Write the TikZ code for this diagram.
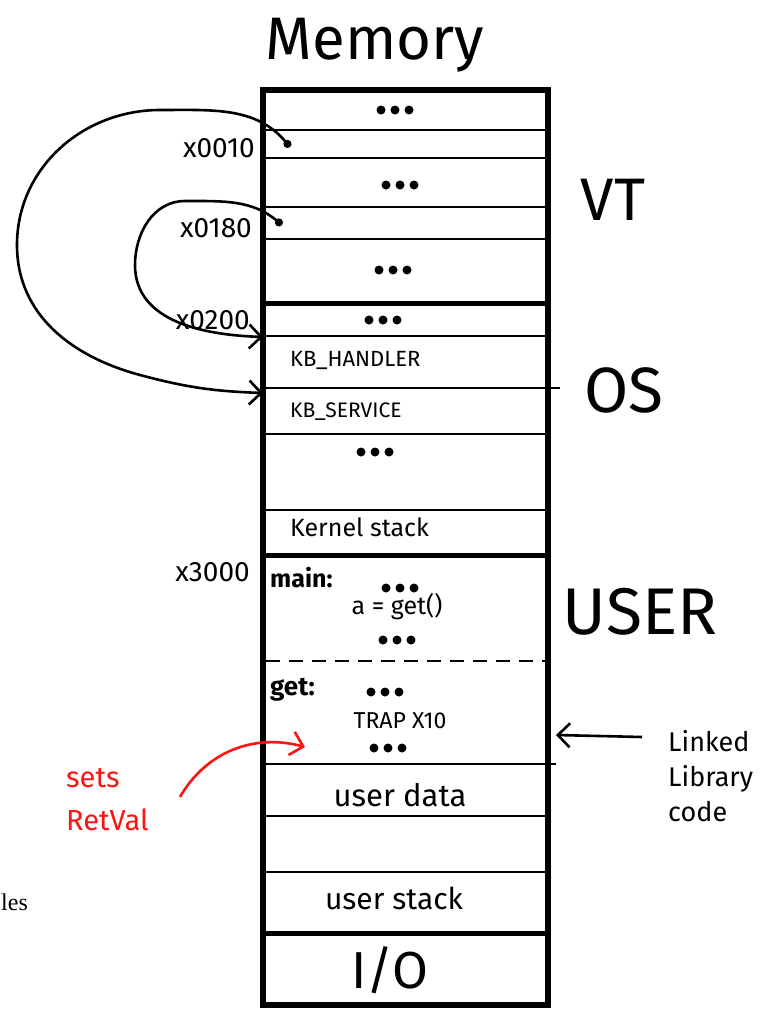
\documentclass[tikz,border=0pt]{standalone}
\usepackage{fontspec}
\setmainfont{Fira Sans}
\newfontfamily\printfont{Liberation Serif}
\usetikzlibrary{arrows.meta}

\definecolor{pen}{RGB}{250,20,20}

\tikzset{
  wall/.style={line width=6.5pt},
  slot/.style={line width=2.6pt},
  bigslot/.style={line width=5pt},
  hand/.style={inner sep=0pt, font=\fontsize{#1}{#1}\selectfont},
  hand/.default=26pt,
  boldhand/.style={inner sep=0pt, font=\fontsize{#1}{#1}\selectfont\bfseries},
  barb/.style={line width=2.6pt, -{Straight Barb[length=12pt,width=24pt,line width=2.6pt]}},
  ptr/.style={line width=2.6pt, {Circle[length=8pt]}-{Straight Barb[length=12pt,width=24pt,line width=2.6pt]}}
}

\begin{document}
\begin{tikzpicture}[x=1pt,y=-1pt]
  \useasboundingbox (0,0) rectangle (776,1010);

  % Memory block
  \draw[wall] (263,90) rectangle (548,1005);
  \foreach \y in {130,158,207,239,336,434,510,816,872}
    \draw[slot] (266,\y) -- (548,\y);
  \draw[slot] (266,388) -- (560,388);
  \draw[slot] (266,764) -- (556,764);
  \foreach \y in {303,555,933}
    \draw[bigslot] (266,\y) -- (548,\y);
  \draw[slot, dash pattern=on 14pt off 9pt] (266,661) -- (548,661);

  % Dots
  \foreach \x/\y in {395/110,400/185,393/270,383/320,375/452,400/588,397/640,385/692,388/748}
    \foreach \dx in {-14,0,14}
      \fill (\x+\dx,\y) circle (4.5pt);

  % Titles
  \node[hand=60pt] (memory) at (375,45) {Memory};
  \node[hand=60pt] (vt) at (613,200) {VT};
  \node[hand=64pt] (os) at (624,390) {OS};
  \node[hand=66pt] (user) at (640,612) {USER};

  % Addresses
  \node[hand=28pt, anchor=east] (a0010) at (255,148) {x0010};
  \node[hand=28pt, anchor=east] (a0180) at (252,228) {x0180};
  \node[hand=28pt, anchor=east] (a0200) at (250,320) {x0200};
  \node[hand=28pt, anchor=east] (a3000) at (250,572) {x3000};

  % Contents
  \node[hand=22pt, anchor=west] (kbh) at (290,360) {KB\_HANDLER};
  \node[hand=21pt, anchor=west] (kbs) at (290,412) {KB\_SERVICE};
  \node[hand=25pt, anchor=west] (kstack) at (290,527) {Kernel stack};
  \node[boldhand=25pt, anchor=west] (main) at (270,578) {main:};
  \node[hand=25pt] (call) at (397,607) {a = get()};
  \node[boldhand=26pt, anchor=west] (get) at (270,690) {get:};
  \node[hand=23pt] (trap) at (400,721) {TRAP X10};
  \node[hand=31pt] (udata) at (400,795) {user data};
  \node[hand=30pt] (ustack) at (394,898) {user stack};
  \node[hand=52pt] (io) at (390,970) {I/O};

  % Side notes
  \node[hand=27pt, anchor=west, align=left] (linked) at (668,776)
    {Linked\\[8pt]Library\\[8pt]code};
  \node[hand=29pt, anchor=west, align=left, text=pen] (retval) at (66,800)
    {sets\\[14pt]RetVal};
  \node[anchor=west, inner sep=0pt, font=\printfont\fontsize{24pt}{24pt}\selectfont] (les) at (1,902) {les};

  % Pointer coordinates
  \coordinate (p10) at (290,147);
  \coordinate (p180) at (282,225);
  \coordinate (kbhin) at (263,337);
  \coordinate (kbsin) at (263,393);
  \coordinate (lk) at (642,737);
  \coordinate (lkin) at (556,735);
  \coordinate (rv) at (180,797);
  \coordinate (trapin) at (305,747);

  % Vector table pointers
  \draw[ptr] (p10) to[out=130,in=0] (160,110) to[out=180,in=90] (17,245)
    to[out=-90,in=165] (140,375) to[out=-15,in=178] (kbsin);
  \draw[ptr] (p180) to[out=140,in=0] (185,201) to[out=180,in=90] (135,265)
    to[out=-90,in=178] (kbhin);

  % Notes
  \draw[barb] (lk) -- (lkin);
  \draw[barb, pen] (rv) to[out=60,in=165] (trapin);
\end{tikzpicture}
\end{document}
